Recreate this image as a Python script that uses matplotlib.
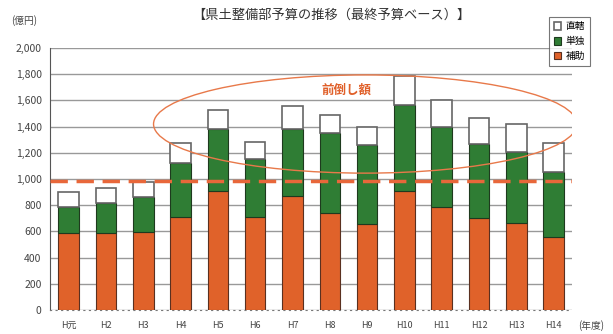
import numpy as np
import matplotlib.pyplot as plt
from matplotlib.patches import Ellipse

plt.rcParams['font.family'] = ['Noto Sans CJK JP', 'DejaVu Sans']

years = ["H元", "H2", "H3", "H4", "H5", "H6", "H7", "H8", "H9", "H10", "H11", "H12", "H13", "H14"]
# budget in 100 million yen
hojo = [588, 588, 595, 710, 908, 710, 870, 740, 656, 908, 786, 702, 664, 557]      # 補助
tandoku = [198, 229, 268, 412, 474, 443, 512, 611, 604, 657, 611, 565, 542, 496]   # 単独
chokkatsu = [114, 114, 114, 153, 145, 129, 175, 139, 137, 221, 206, 199, 214, 222]  # 直轄
front_loaded = 985  # 前倒し基準線

x = np.arange(len(years))
w = 0.55
c_orange = "#e0622a"
c_green = "#2f7d34"

fig = plt.figure(figsize=(6.13, 3.34), dpi=100)
ax = fig.add_axes([0.0816, 0.072, 0.852, 0.784])

ax.bar(x, hojo, w, color=c_orange, edgecolor="#5a3020", linewidth=0.8, label="補助", zorder=3)
ax.bar(x, tandoku, w, bottom=hojo, color=c_green, edgecolor="#1e3a1e", linewidth=0.8, label="単独", zorder=3)
ax.bar(x, chokkatsu, w, bottom=np.array(hojo) + np.array(tandoku), color="white",
       edgecolor="#666666", linewidth=1.2, label="直轄", zorder=3)

ax.axhline(front_loaded, color="#e8673a", lw=2.5, ls=(0, (5, 2.5)), zorder=4)

ell = Ellipse((7.95, 1420), 11.35, 750, fill=False, edgecolor="#e8794a", lw=1.0, zorder=5)
ax.add_patch(ell)
ax.text(7.45, 1680, "前倒し額", color="#e0602a", fontsize=9, fontweight="bold",
        ha="center", va="center", zorder=6)

ax.set_xlim(-0.5, 13.5)
ax.set_ylim(0, 2000)
ax.set_yticks(range(0, 2001, 200))
ax.set_yticklabels([f"{v:,}" for v in range(0, 2001, 200)], fontsize=7.5, color="#444444")
ax.set_xticks(x)
ax.set_xticklabels(years, fontsize=6.5, color="#444444")
ax.tick_params(axis="x", length=0, pad=8)
ax.tick_params(axis="y", length=0, pad=6)
ax.grid(axis="y", color="#999999", lw=1.0, zorder=0)
for s in ["top", "right"]:
    ax.spines[s].set_visible(False)
ax.spines["left"].set_color("#555555")
ax.spines["bottom"].set_color("#777777")
ax.spines["bottom"].set_linestyle((0, (1, 4)))

fig.text(0.54, 0.955, "【県土整備部予算の推移（最終予算ベース）】", fontsize=9.5, color="#333333",
         ha="center", va="center")
fig.text(0.04, 0.94, "(億円)", fontsize=7, color="#444444", ha="center", va="center")
fig.text(0.965, 0.025, "(年度)", fontsize=7, color="#444444", ha="center", va="center")

handles, labels = ax.get_legend_handles_labels()
leg = fig.legend(handles[::-1], labels[::-1], loc="upper right", bbox_to_anchor=(0.97, 0.965),
                 fontsize=7, frameon=True, fancybox=False, edgecolor="#555555",
                 handlelength=0.8, handleheight=0.8, handletextpad=0.4, labelspacing=0.5,
                 borderpad=0.5)
leg.get_frame().set_linewidth(0.8)

plt.savefig("out.png", dpi=100)
